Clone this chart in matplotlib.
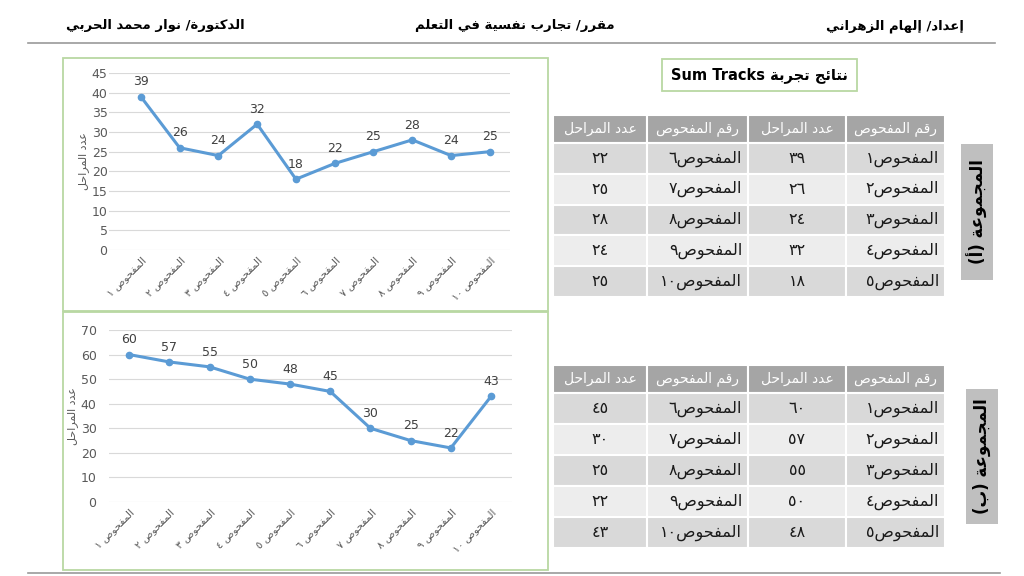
import re
import matplotlib
matplotlib.use('Agg')
import matplotlib.pyplot as plt
from matplotlib.patches import Rectangle

# chart data
group_a_steps = [39, 26, 24, 32, 18, 22, 25, 28, 24, 25]
group_b_steps = [60, 57, 55, 50, 48, 45, 30, 25, 22, 43]
ar_digits = '٠١٢٣٤٥٦٧٨٩'
subject_word = 'المفحوص'
col_subject = 'رقم المفحوص'
col_steps = 'عدد المراحل'
y_label = 'عدد المراحل'
header_right = 'إعداد/ إلهام الزهراني'
header_center = 'مقرر/ تجارب نفسية في التعلم'
header_left = 'الدكتورة/ نوار محمد الحربي'
title_text = 'نتائج تجربة Sum Tracks'
group_a_name = 'المجموعة (أ)'
group_b_name = 'المجموعة (ب)'


def to_ar(n):
    return str(n).translate(str.maketrans('0123456789', ar_digits))


# --- minimal arabic shaping + rtl ordering (matplotlib has no CTL) ---
AR = {'ء': (0xFE80, 1), 'آ': (0xFE81, 2), 'أ': (0xFE83, 2), 'ؤ': (0xFE85, 2), 'إ': (0xFE87, 2),
      'ئ': (0xFE89, 4), 'ا': (0xFE8D, 2), 'ب': (0xFE8F, 4), 'ة': (0xFE93, 2), 'ت': (0xFE95, 4),
      'ث': (0xFE99, 4), 'ج': (0xFE9D, 4), 'ح': (0xFEA1, 4), 'خ': (0xFEA5, 4), 'د': (0xFEA9, 2),
      'ذ': (0xFEAB, 2), 'ر': (0xFEAD, 2), 'ز': (0xFEAF, 2), 'س': (0xFEB1, 4), 'ش': (0xFEB5, 4),
      'ص': (0xFEB9, 4), 'ض': (0xFEBD, 4), 'ط': (0xFEC1, 4), 'ظ': (0xFEC5, 4), 'ع': (0xFEC9, 4),
      'غ': (0xFECD, 4), 'ف': (0xFED1, 4), 'ق': (0xFED5, 4), 'ك': (0xFED9, 4), 'ل': (0xFEDD, 4),
      'م': (0xFEE1, 4), 'ن': (0xFEE5, 4), 'ه': (0xFEE9, 4), 'و': (0xFEED, 2), 'ى': (0xFEEF, 2),
      'ي': (0xFEF1, 4)}
LAM_ALEF = {'آ': 0xFEF5, 'أ': 0xFEF7, 'إ': 0xFEF9, 'ا': 0xFEFB}


def shape(s):
    toks = []
    i = 0
    while i < len(s):
        c = s[i]
        if c == 'ل' and i + 1 < len(s) and s[i + 1] in LAM_ALEF:
            toks.append(('LA', LAM_ALEF[s[i + 1]], 2))
            i += 2
            continue
        if c in AR:
            toks.append(('A', AR[c][0], AR[c][1]))
        else:
            toks.append(('X', c, 0))
        i += 1
    out = []
    for k, (kind, val, nf) in enumerate(toks):
        if kind == 'X':
            out.append(val)
            continue
        prev = k > 0 and toks[k - 1][2] == 4 and nf >= 2
        nxt = nf == 4 and k + 1 < len(toks) and toks[k + 1][2] >= 2
        if prev and nxt:
            off = 3
        elif prev:
            off = 1
        elif nxt:
            off = 2
        else:
            off = 0
        out.append(chr(val + off))
    return ''.join(out)


MIRROR = str.maketrans('()', ')(')


def rtl(s):
    parts = re.split(r'([A-Za-z0-9\u0660-\u0669]+(?:[ .][A-Za-z0-9\u0660-\u0669]+)*)', shape(s))
    vis = []
    for j, p in enumerate(parts):
        vis.append(p if j % 2 else p[::-1].translate(MIRROR))
    return ''.join(reversed(vis))


plt.rcParams['font.family'] = ['DejaVu Sans']

W, H = 1024, 576
fig = plt.figure(figsize=(W / 100, H / 100), dpi=100)
bg = fig.add_axes([0, 0, 1, 1], zorder=0)
bg.set_xlim(0, W)
bg.set_ylim(H, 0)
bg.axis('off')

# header
bg.text(895, 26, rtl(header_right), ha='center', va='center', fontsize=9.5, fontweight='bold')
bg.text(515, 26, rtl(header_center), ha='center', va='center', fontsize=9.5, fontweight='bold')
bg.text(155, 26, rtl(header_left), ha='center', va='center', fontsize=9.5, fontweight='bold')
bg.plot([28, 995], [43, 43], color='#9a9a9a', lw=1.2)
bg.plot([28, 1000], [573, 573], color='#9a9a9a', lw=1.2)

green = '#b9d8a3'
bg.add_patch(Rectangle((63, 58), 485, 253, fill=False, ec=green, lw=1.3))
bg.add_patch(Rectangle((63, 312), 485, 258, fill=False, ec=green, lw=1.3))

# title box
bg.add_patch(Rectangle((662, 59), 195, 32, fc='white', ec=green, lw=1.3))
bg.text(759.5, 75, rtl(title_text), ha='center', va='center', fontsize=10.5, fontweight='bold')


def draw_chart(rect_px, values, ymax, ystep, xlim, ypad):
    l, t, r, b = rect_px
    ax = fig.add_axes([l / W, 1 - b / H, (r - l) / W, (b - t) / H], zorder=1)
    ax.set_facecolor('none')
    x = list(range(len(values)))
    ax.plot(x, values, color='#5b9bd5', lw=2.2, marker='o', ms=4.5, zorder=3)
    for i, v in enumerate(values):
        ax.annotate(str(v), (i, v), xytext=(0, 6), textcoords='offset points',
                    ha='center', va='bottom', fontsize=9, color='#404040')
    ax.set_ylim(0, ymax)
    ax.set_yticks(range(0, ymax + 1, ystep))
    ax.set_xlim(*xlim)
    ax.set_xticks(x)
    ax.set_xticklabels([rtl(subject_word + ' ' + to_ar(i + 1)) for i in x],
                       rotation=45, ha='right', va='top', rotation_mode='anchor',
                       fontsize=7.5, color='#595959')
    ax.tick_params(axis='y', labelsize=9, labelcolor='#595959', length=0, pad=ypad)
    ax.tick_params(axis='x', length=0, pad=4)
    ax.grid(axis='y', color='#d9d9d9', lw=0.8)
    ax.set_axisbelow(True)
    for sp in ax.spines.values():
        sp.set_visible(False)
    ax.set_ylabel(rtl(y_label), fontsize=8, color='#595959', labelpad=2)
    return ax


draw_chart((109, 73, 510, 250), group_a_steps, 45, 5, (-0.82, 9.52), 1)
draw_chart((109, 330, 512, 502), group_b_steps, 70, 10, (-0.5, 9.52), 9)

# tables
col_edges = [553, 647, 748, 846, 945]


def draw_table(top, hdr_h, row_h, values):
    # columns from left to right: steps, subject, steps, subject
    heads = [col_steps, col_subject, col_steps, col_subject]
    for c in range(4):
        x0, x1 = col_edges[c], col_edges[c + 1]
        bg.add_patch(Rectangle((x0, top), x1 - x0, hdr_h, fc='#a5a5a5', ec='white', lw=1.5))
        bg.text((x0 + x1) / 2, top + hdr_h / 2, rtl(heads[c]), ha='center', va='center',
                fontsize=10, color='white')
    for r in range(5):
        y0 = top + hdr_h + r * row_h
        fc = '#d9d9d9' if r % 2 == 0 else '#ededed'
        cells = [to_ar(values[r + 5]), subject_word + to_ar(r + 6),
                 to_ar(values[r]), subject_word + to_ar(r + 1)]
        for c in range(4):
            x0, x1 = col_edges[c], col_edges[c + 1]
            bg.add_patch(Rectangle((x0, y0), x1 - x0, row_h, fc=fc, ec='white', lw=1.5))
            if c % 2 == 1:
                bg.text(x1 - 6, y0 + row_h / 2, rtl(cells[c]), ha='right', va='center',
                        fontsize=11.5, color='#1a1a1a')
            else:
                bg.text((x0 + x1) / 2, y0 + row_h / 2, rtl(cells[c]), ha='center',
                        va='center', fontsize=11.5, color='#1a1a1a')


draw_table(115, 28, 30.8, group_a_steps)
draw_table(365, 28, 31, group_b_steps)

# group labels
bg.add_patch(Rectangle((961, 144), 32, 136, fc='#bfbfbf', ec='none'))
bg.text(977, 212, rtl(group_a_name), rotation=90, ha='center', va='center',
        fontsize=12, fontweight='bold')
bg.add_patch(Rectangle((966, 389), 32, 135, fc='#bfbfbf', ec='none'))
bg.text(982, 456.5, rtl(group_b_name), rotation=90, ha='center', va='center',
        fontsize=12, fontweight='bold')

fig.savefig('out.png', dpi=100)
